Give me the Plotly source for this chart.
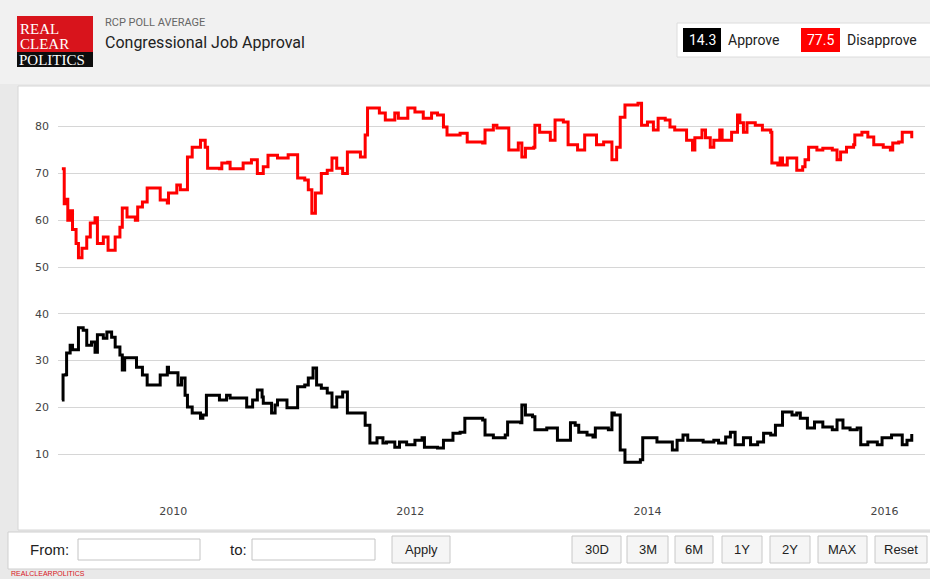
import plotly.graph_objects as go
import pandas as pd

# ---------------- data ----------------
disapprove_years = [
    2009.06, 2009.08, 2009.10, 2009.11, 2009.13, 2009.15, 2009.18, 2009.20, 2009.23, 2009.27,
    2009.30, 2009.34, 2009.36, 2009.41, 2009.45, 2009.51, 2009.55, 2009.57, 2009.61, 2009.68,
    2009.70, 2009.74, 2009.78, 2009.86, 2009.89, 2009.95, 2009.96, 2010.03, 2010.06, 2010.10,
    2010.12, 2010.16, 2010.23, 2010.27, 2010.29, 2010.39, 2010.41, 2010.46, 2010.48, 2010.56,
    2010.59, 2010.66, 2010.71, 2010.76, 2010.80, 2010.88, 2010.96, 2010.97, 2011.03, 2011.05,
    2011.11, 2011.14, 2011.17, 2011.20, 2011.25, 2011.30, 2011.34, 2011.38, 2011.43, 2011.47,
    2011.58, 2011.62, 2011.64, 2011.74, 2011.79, 2011.87, 2011.90, 2011.94, 2011.98, 2012.04,
    2012.11, 2012.18, 2012.23, 2012.28, 2012.31, 2012.42, 2012.48, 2012.61, 2012.63, 2012.70,
    2012.73, 2012.82, 2012.83, 2012.91, 2012.94, 2012.97, 2013.04, 2013.05, 2013.09, 2013.16,
    2013.18, 2013.22, 2013.29, 2013.33, 2013.41, 2013.47, 2013.54, 2013.57, 2013.63, 2013.67,
    2013.70, 2013.74, 2013.77, 2013.81, 2013.92, 2013.95, 2014.00, 2014.05, 2014.09, 2014.15,
    2014.19, 2014.23, 2014.28, 2014.33, 2014.38, 2014.40, 2014.46, 2014.49, 2014.53, 2014.56,
    2014.61, 2014.63, 2014.68, 2014.71, 2014.76, 2014.78, 2014.81, 2014.84, 2014.91, 2014.97,
    2015.04, 2015.05, 2015.10, 2015.12, 2015.14, 2015.18, 2015.23, 2015.26, 2015.31, 2015.33,
    2015.36, 2015.43, 2015.48, 2015.56, 2015.60, 2015.63, 2015.68, 2015.74, 2015.75, 2015.81,
    2015.86, 2015.91, 2015.99, 2016.05, 2016.07, 2016.12, 2016.15, 2016.20, 2016.23,
]
disapprove_values = [
    71.0, 63.5, 64.5, 60.0, 62.0, 58.0, 55.0, 52.0, 54.0, 56.4,
    59.4, 60.5, 55.0, 56.4, 53.6, 56.4, 58.5, 62.6, 60.7, 60.0,
    62.8, 63.9, 66.9, 66.9, 64.3, 63.7, 65.8, 67.5, 66.5, 66.5,
    73.5, 75.6, 77.1, 75.6, 71.1, 71.0, 72.2, 72.4, 71.0, 71.0,
    72.2, 72.9, 70.0, 71.4, 73.9, 73.3, 73.3, 74.0, 74.0, 69.0,
    68.6, 66.5, 61.5, 65.8, 70.0, 70.7, 73.3, 71.1, 70.0, 74.6,
    73.5, 78.2, 84.0, 82.9, 81.4, 82.9, 81.8, 81.8, 84.0, 83.1,
    81.8, 82.9, 82.5, 79.9, 78.2, 78.6, 76.7, 76.5, 79.3, 80.3,
    79.7, 79.7, 75.0, 76.5, 73.5, 75.4, 75.6, 80.3, 78.8, 78.8,
    77.1, 81.4, 81.0, 76.1, 75.0, 78.2, 78.2, 76.1, 76.7, 76.7,
    72.9, 75.6, 82.0, 84.6, 85.0, 80.3, 81.0, 79.3, 81.8, 81.4,
    79.9, 79.3, 79.3, 77.1, 75.0, 77.6, 79.3, 77.6, 75.6, 77.1,
    79.3, 77.1, 77.1, 78.8, 82.5, 80.8, 78.8, 80.8, 80.3, 79.3,
    78.8, 72.2, 71.8, 73.3, 71.8, 73.3, 73.3, 70.7, 71.4, 72.9,
    75.6, 75.0, 75.4, 75.0, 72.9, 74.6, 75.6, 76.1, 78.2, 78.8,
    77.8, 76.1, 75.6, 75.0, 76.5, 76.7, 78.8, 78.8, 77.5,
]

approve_years = [
    2009.06, 2009.07, 2009.09, 2009.10, 2009.13, 2009.15, 2009.20, 2009.24, 2009.27, 2009.31,
    2009.34, 2009.36, 2009.41, 2009.44, 2009.48, 2009.51, 2009.55, 2009.57, 2009.59, 2009.66,
    2009.69, 2009.74, 2009.78, 2009.85, 2009.89, 2009.95, 2009.96, 2010.03, 2010.04, 2010.07,
    2010.10, 2010.12, 2010.16, 2010.21, 2010.23, 2010.25, 2010.28, 2010.37, 2010.39, 2010.45,
    2010.48, 2010.56, 2010.62, 2010.67, 2010.71, 2010.75, 2010.76, 2010.80, 2010.83, 2010.86,
    2010.88, 2010.94, 2010.96, 2011.03, 2011.05, 2011.11, 2011.14, 2011.18, 2011.21, 2011.25,
    2011.30, 2011.34, 2011.38, 2011.43, 2011.47, 2011.58, 2011.62, 2011.66, 2011.72, 2011.77,
    2011.80, 2011.87, 2011.91, 2011.97, 2012.04, 2012.10, 2012.12, 2012.23, 2012.28, 2012.36,
    2012.42, 2012.46, 2012.55, 2012.61, 2012.63, 2012.70, 2012.80, 2012.82, 2012.93, 2012.94,
    2012.97, 2013.03, 2013.05, 2013.15, 2013.24, 2013.31, 2013.35, 2013.39, 2013.42, 2013.49,
    2013.54, 2013.56, 2013.67, 2013.70, 2013.72, 2013.77, 2013.81, 2013.94, 2013.96, 2014.08,
    2014.17, 2014.21, 2014.25, 2014.30, 2014.34, 2014.42, 2014.47, 2014.56, 2014.60, 2014.66,
    2014.70, 2014.74, 2014.81, 2014.87, 2014.93, 2014.98, 2015.04, 2015.08, 2015.14, 2015.22,
    2015.26, 2015.29, 2015.35, 2015.41, 2015.48, 2015.56, 2015.60, 2015.65, 2015.71, 2015.77,
    2015.80, 2015.86, 2015.94, 2015.98, 2016.06, 2016.11, 2016.15, 2016.19, 2016.23,
]
approve_values = [
    21.6, 26.9, 27.0, 31.6, 33.3, 32.3, 37.0, 36.5, 33.3, 34.0,
    31.8, 35.5, 34.8, 36.1, 35.0, 32.9, 31.2, 28.0, 30.6, 30.6,
    28.6, 26.9, 24.8, 24.8, 26.9, 28.6, 27.4, 27.4, 24.8, 26.3,
    22.6, 20.1, 18.8, 18.8, 17.7, 18.4, 22.6, 22.6, 21.6, 22.6,
    22.0, 22.0, 20.1, 21.6, 23.7, 22.2, 20.9, 20.9, 18.8, 20.5,
    21.6, 21.6, 19.9, 19.9, 24.4, 24.8, 26.3, 28.4, 24.8, 24.1,
    23.1, 20.1, 22.2, 23.3, 18.8, 18.8, 16.2, 12.4, 13.5, 12.4,
    12.6, 11.5, 12.6, 12.0, 13.0, 13.5, 11.5, 11.3, 13.0, 14.5,
    14.7, 17.7, 17.7, 17.3, 14.1, 13.5, 14.1, 16.9, 16.7, 20.5,
    18.4, 18.0, 15.2, 15.6, 13.0, 13.0, 16.7, 16.2, 14.7, 14.1,
    13.7, 15.6, 15.2, 18.8, 18.4, 10.9, 8.3, 8.8, 13.5, 12.6,
    12.6, 10.9, 13.0, 14.1, 13.0, 13.0, 12.6, 13.0, 12.4, 13.7,
    14.7, 12.0, 13.5, 12.0, 12.6, 14.5, 14.1, 16.2, 19.0, 18.4,
    18.8, 17.7, 15.6, 16.9, 15.8, 15.2, 17.3, 15.6, 15.2, 15.6,
    12.0, 12.6, 12.0, 13.5, 14.1, 14.1, 12.0, 13.0, 14.3,
]

x_tick_dates = ["2010-01-01", "2012-01-01", "2014-01-01", "2016-01-01"]
x_tick_labels = ["2010", "2012", "2014", "2016"]
y_tick_values = [10, 20, 30, 40, 50, 60, 70, 80]
latest_approve = 14.3
latest_disapprove = 77.5
range_buttons = ["30D", "3M", "6M", "1Y", "2Y", "MAX", "Reset"]


def year_to_date(y):
    yr = int(y)
    start = pd.Timestamp(year=yr, month=1, day=1)
    end = pd.Timestamp(year=yr + 1, month=1, day=1)
    return start + (end - start) * (y - yr)


approve_dates = [year_to_date(v) for v in approve_years]
disapprove_dates = [year_to_date(v) for v in disapprove_years]

# ---------------- layout geometry ----------------
W, H = 930, 579
ML, MR, MT, MB = 58, 5, 88, 84
PW, PH = W - ML - MR, H - MT - MB


def px(x):
    return (x - ML) / PW


def py(y):
    return (H - MB - y) / PH


fig = go.Figure()
fig.add_trace(go.Scatter(x=disapprove_dates, y=disapprove_values, mode="lines",
                         line=dict(color="#ff0000", width=3, shape="hv"),
                         name="Disapprove", hoverinfo="skip"))
fig.add_trace(go.Scatter(x=approve_dates, y=approve_values, mode="lines",
                         line=dict(color="#000000", width=3, shape="hv"),
                         name="Approve", hoverinfo="skip"))

shapes = []
annotations = []


def rect(x0, y0, x1, y1, fill, line=None, lw=1, layer="below"):
    shapes.append(dict(type="rect", xref="paper", yref="paper",
                       x0=px(x0), x1=px(x1), y0=py(y1), y1=py(y0),
                       fillcolor=fill, layer=layer,
                       line=dict(color=line if line else fill, width=lw if line else 0)))


def text(x, y, s, size, color, family="Roboto, Arial, sans-serif", xanchor="left", yanchor="middle"):
    annotations.append(dict(xref="paper", yref="paper", x=px(x), y=py(y), text=s,
                            showarrow=False, xanchor=xanchor, yanchor=yanchor, borderpad=0,
                            font=dict(size=size, color=color, family=family)))


# page pieces
rect(0, 0, 930, 84, "#f1f1f1")
rect(18, 86, 931, 530, "#ffffff", "#d6d6d6")
rect(8, 532, 931, 569, "#ffffff", "#cfcfcf")

# logo
rect(17, 16, 93, 53, "#d8141c")
rect(17, 52, 93, 67, "#0d0d0d")
text(19, 29, "REAL", 15, "#ffffff", "Liberation Serif, Times New Roman, serif")
text(19, 44, "CLEAR", 15, "#ffffff", "Liberation Serif, Times New Roman, serif")
text(18, 60, "POLITICS", 15, "#ffffff", "Liberation Serif, Times New Roman, serif")

text(104, 23, "RCP POLL AVERAGE", 11, "#666666")
text(104, 43, "Congressional Job Approval", 16, "#222222")

# legend box
rect(677, 23, 931, 57, "#ffffff", "#dcdcdc")
rect(683, 28, 721, 52, "#000000")
rect(801, 28, 840, 52, "#ff0000")
text(702, 40, f"{latest_approve}", 14, "#ffffff", xanchor="center")
text(727, 40, "Approve", 14, "#222222")
text(820.5, 40, f"{latest_disapprove}", 14, "#ffffff", xanchor="center")
text(846, 40, "Disapprove", 14, "#222222")

# bottom controls
text(29, 549, "From:", 15, "#222222", "Liberation Sans, Arial, sans-serif")
rect(78, 539, 200, 560, "#ffffff", "#c4c4c4")
text(229, 549, "to:", 15, "#222222", "Liberation Sans, Arial, sans-serif")
rect(252, 539, 375, 560, "#ffffff", "#c4c4c4")
rect(392, 536, 450, 563, "#f5f5f5", "#c8c8c8")
text(421, 549.5, "Apply", 13, "#222222", "Liberation Sans, Arial, sans-serif", xanchor="center")

btn_x = [(572, 621), (627, 668), (675, 713), (722, 762), (770, 810), (818, 867), (875, 927)]
for (a, b), lab in zip(btn_x, range_buttons):
    rect(a, 536, b, 563, "#f5f5f5", "#c8c8c8")
    text((a + b) / 2, 549.5, lab, 13, "#222222", "Liberation Sans, Arial, sans-serif", xanchor="center")

text(10, 573.5, "REALCLEARPOLITICS", 7, "#d8141c", "Liberation Sans, Arial, sans-serif")

fig.update_layout(
    width=W, height=H,
    margin=dict(l=ML, r=MR, t=MT, b=MB, pad=0),
    paper_bgcolor="#e9e9e9",
    plot_bgcolor="#ffffff",
    showlegend=False,
    shapes=shapes,
    annotations=annotations,
    xaxis=dict(type="date", range=["2009-01-11", "2016-05-05"],
               tickvals=x_tick_dates, ticktext=x_tick_labels,
               showgrid=False, zeroline=False, showline=False, ticks="",
               tickfont=dict(family="DejaVu Sans, Verdana, sans-serif", size=11, color="#444444"),
               ticklabelstandoff=8, fixedrange=True),
    yaxis=dict(range=[1.28, 88.25], tickvals=y_tick_values,
               showgrid=True, gridcolor="#d6d6d6", gridwidth=1,
               zeroline=False, showline=False, ticks="",
               tickfont=dict(family="DejaVu Sans, Verdana, sans-serif", size=11, color="#444444"),
               ticklabelstandoff=8, fixedrange=True),
)

fig.write_html("out.html", config={"displayModeBar": False},
               post_script="document.body.style.margin='0';document.body.style.overflow='hidden';")
